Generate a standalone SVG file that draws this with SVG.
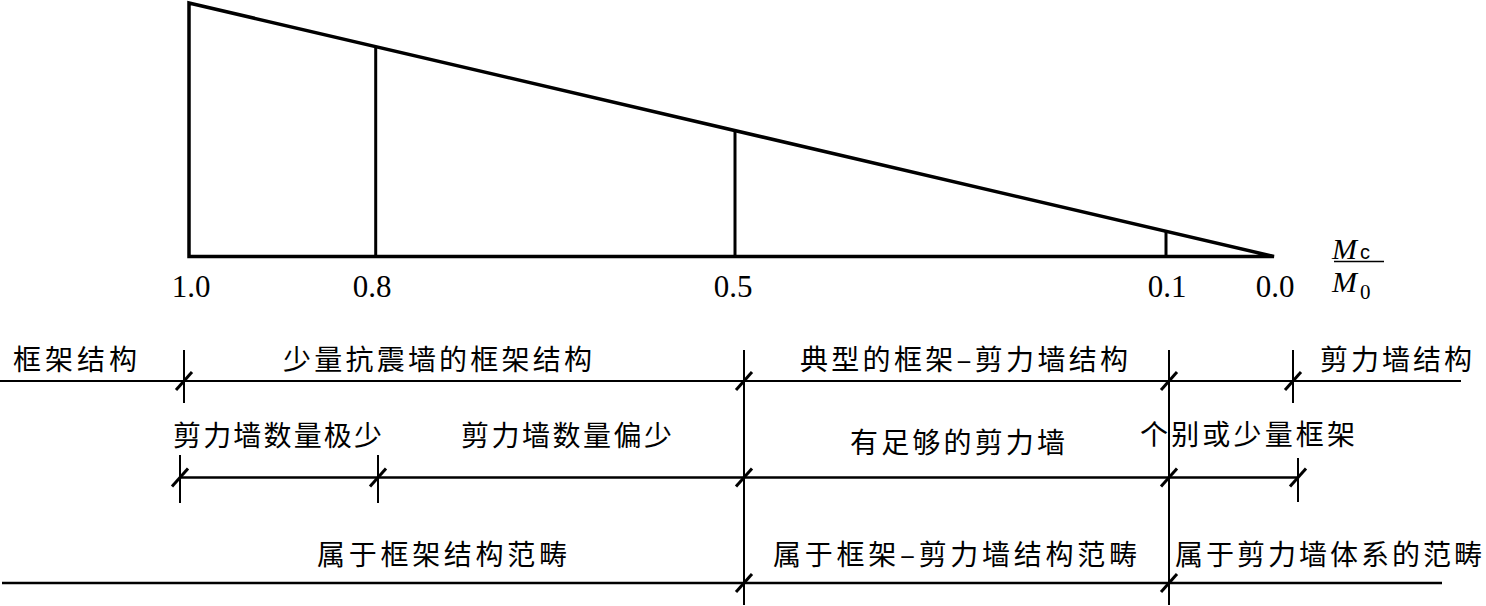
<svg xmlns="http://www.w3.org/2000/svg" width="1486" height="606" viewBox="0 0 1486 606">
<style>
.bg{fill:#fff}
.tri{fill:none;stroke:#000;stroke-width:3.5;stroke-linejoin:miter}
.v{stroke:#000;stroke-width:3}
.num{font-family:"Liberation Serif","Times New Roman",serif;font-size:31px;fill:#000;text-anchor:middle}
.it{font-family:"Liberation Serif","Times New Roman",serif;font-style:italic;font-size:30px;fill:#000}
.sub{font-family:"Liberation Serif","Times New Roman",serif;font-size:21px;fill:#000}
.subs{font-family:"Liberation Sans",Arial,sans-serif;font-size:20px;fill:#000}
.cn{font-family:"Noto Sans CJK SC","Noto Sans CJK TC",sans-serif;font-size:28px;fill:#000}
.l1{stroke:#000;stroke-width:1.8}
.l2{stroke:#000;stroke-width:2.6}
.tk{stroke:#000;stroke-width:2}
.sl{stroke:#000;stroke-width:3}
</style>
<rect class="bg" x="0" y="0" width="1486" height="606"/>
<g id="chart">
<polygon class="tri" points="189,3 1274,256.5 189,256.5"/>
<line class="v" x1="375.7" y1="46.5" x2="375.7" y2="256.5"/>
<line class="v" x1="735" y1="130.3" x2="735" y2="256.5"/>
<line class="v" x1="1166" y1="230.8" x2="1166" y2="256.5"/>
</g>
<g id="axis-labels">
<text class="num" x="191" y="297">1.0</text>
<text class="num" x="372" y="297">0.8</text>
<text class="num" x="733" y="297">0.5</text>
<text class="num" x="1167" y="297">0.1</text>
<text class="num" x="1275" y="297">0.0</text>
<text class="it" x="1332" y="259">M</text>
<text class="subs" x="1360" y="259">c</text>
<line stroke="#000" stroke-width="1.6" x1="1334" y1="261.5" x2="1384" y2="261.5"/>
<text class="it" x="1332" y="292">M</text>
<text class="sub" x="1360" y="299">0</text>
</g>
<g id="connectors">
<line class="l1" x1="0" y1="381" x2="1461" y2="381"/>
<line class="l2" x1="180" y1="477.5" x2="1298" y2="477.5"/>
<line class="l2" x1="2" y1="583" x2="1442" y2="583"/>
<line class="tk" x1="184" y1="350" x2="184" y2="403"/>
<line class="tk" x1="1293" y1="350" x2="1293" y2="403"/>
<line class="tk" x1="180" y1="455" x2="180" y2="503"/>
<line class="tk" x1="378" y1="455" x2="378" y2="503"/>
<line class="tk" x1="1298" y1="458" x2="1298" y2="502"/>
<line class="tk" x1="744" y1="350" x2="744" y2="605"/>
<line class="tk" x1="1169" y1="350" x2="1169" y2="605"/>
<line class="sl" x1="176" y1="390" x2="192" y2="372"/>
<line class="sl" x1="736" y1="390" x2="752" y2="372"/>
<line class="sl" x1="1161" y1="390" x2="1177" y2="372"/>
<line class="sl" x1="1285" y1="390" x2="1301" y2="372"/>
<line class="sl" x1="172" y1="486.5" x2="188" y2="468.5"/>
<line class="sl" x1="370" y1="486.5" x2="386" y2="468.5"/>
<line class="sl" x1="736" y1="486.5" x2="752" y2="468.5"/>
<line class="sl" x1="1161" y1="486.5" x2="1177" y2="468.5"/>
<line class="sl" x1="1290" y1="486.5" x2="1306" y2="468.5"/>
<line class="sl" x1="736" y1="592" x2="752" y2="574"/>
<line class="sl" x1="1161" y1="592" x2="1177" y2="574"/>
</g>
<g id="row1">
<text id="t-kuangjia" class="cn" x="13" y="370" textLength="124" lengthAdjust="spacing">框架结构</text>
<text id="t-shaoliang" class="cn" x="283" y="370" textLength="309" lengthAdjust="spacing">少量抗震墙的框架结构</text>
<text id="t-dianxing" class="cn" x="800" y="370" textLength="328" lengthAdjust="spacing">典型的框架–剪力墙结构</text>
<text id="t-jianli" class="cn" x="1320" y="370" textLength="152" lengthAdjust="spacing">剪力墙结构</text>
</g>
<g id="row2">
<text id="t-jishao" class="cn" x="173" y="446" textLength="209" lengthAdjust="spacing">剪力墙数量极少</text>
<text id="t-pianshao" class="cn" x="461" y="446" textLength="211" lengthAdjust="spacing">剪力墙数量偏少</text>
<text id="t-zugou" class="cn" x="850" y="453" textLength="215" lengthAdjust="spacing">有足够的剪力墙</text>
<text id="t-gebie" class="cn" x="1140" y="445" textLength="215" lengthAdjust="spacing">个别或少量框架</text>
</g>
<g id="row3">
<text id="t-fanchou1" class="cn" x="317" y="565" textLength="250" lengthAdjust="spacing">属于框架结构范畴</text>
<text id="t-fanchou2" class="cn" x="773" y="565" textLength="364" lengthAdjust="spacing">属于框架–剪力墙结构范畴</text>
<text id="t-fanchou3" class="cn" x="1175" y="565" textLength="307" lengthAdjust="spacing">属于剪力墙体系的范畴</text>
</g>
</svg>
